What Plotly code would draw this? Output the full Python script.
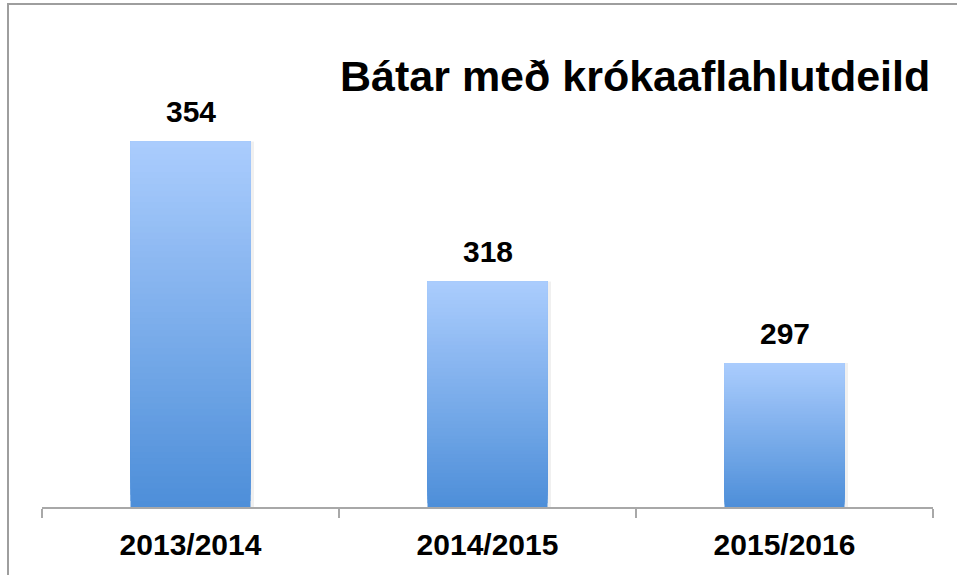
import plotly.graph_objects as go

categories = ["2013/2014", "2014/2015", "2015/2016"]
values = [354, 318, 297]
title_text = "Bátar með krókaaflahlutdeild"

axis_min = 260
px_per_unit = 140 / 36
W, H = 957, 575
ml, mr, mt, mb = 42, 24, 30, 68
plot_h = H - mt - mb
axis_max = axis_min + plot_h / px_per_unit

top_rgb = (170, 204, 253)
bot_rgb = (78, 143, 217)
N = 60

fig = go.Figure()

# subtle shadow
fig.add_trace(go.Bar(
    x=categories, y=[v - axis_min for v in values], base=axis_min,
    width=0.414, marker=dict(color="rgba(0,0,0,0.06)", line=dict(width=0)),
    hoverinfo="skip", showlegend=False, offset=-0.2,
))

for i in range(N):
    f = i / (N - 1)
    c = tuple(round(bot_rgb[k] + (top_rgb[k] - bot_rgb[k]) * f) for k in range(3))
    bases = [axis_min + (v - axis_min) * i / N for v in values]
    fig.add_trace(go.Bar(
        x=categories,
        y=[v - b for v, b in zip(values, bases)],
        base=bases,
        width=0.404,
        marker=dict(color=f"rgb{c}", line=dict(width=0)),
        hoverinfo="skip", showlegend=False,
    ))

for cat, v in zip(categories, values):
    fig.add_annotation(x=cat, y=v, text=str(v), showarrow=False,
                       yanchor="middle", yshift=30,
                       font=dict(family="Liberation Sans, Arial", size=30, color="black", weight="bold"))

fig.add_annotation(xref="paper", yref="paper", x=(634.5 - ml) / (W - ml - mr),
                   y=(H - mb - 76) / plot_h, text=title_text, showarrow=False,
                   xanchor="center", yanchor="middle",
                   font=dict(family="Liberation Sans, Arial", size=43, color="black", weight="bold"))

pw = W - ml - mr
fig.add_shape(type="rect", xref="paper", yref="paper",
              x0=(8 - ml) / pw, x1=1.2, y0=-0.3, y1=(H - mb - 4) / plot_h,
              line=dict(color="#9e9e9e", width=2), fillcolor="rgba(0,0,0,0)", layer="above")

fig.update_layout(
    width=W, height=H, barmode="overlay",
    margin=dict(l=ml, r=mr, t=mt, b=mb),
    plot_bgcolor="white", paper_bgcolor="white",
    hovermode=False,
    xaxis=dict(type="category", range=[-0.5, 2.5], showline=True, linecolor="#a8a8a8", linewidth=2,
               ticks="outside", ticklen=9, tickwidth=2, tickcolor="#a8a8a8", tickson="boundaries",
               showgrid=False, zeroline=False, ticklabelstandoff=10,
               tickfont=dict(family="Liberation Sans, Arial", size=30, color="black", weight="bold")),
    yaxis=dict(range=[axis_min, axis_max], visible=False, showgrid=False),
)

fig.write_html("out.html", config={"displayModeBar": False, "staticPlot": True},
               post_script="document.body.style.margin='0';document.body.style.overflow='hidden';")
